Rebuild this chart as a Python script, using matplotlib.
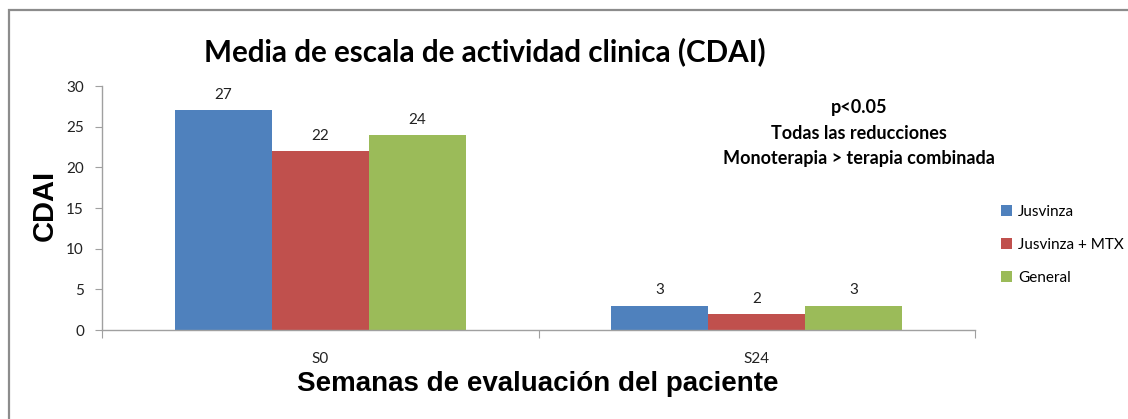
import matplotlib
matplotlib.use("Agg")
import matplotlib.pyplot as plt
from matplotlib.patches import Rectangle
import numpy as np

categories = ["S0", "S24"]
series_names = ["Jusvinza", "Jusvinza + MTX", "General"]
jusvinza = [27, 3]
jusvinza_mtx = [22, 2]
general = [24, 3]
colors = ["#4F81BD", "#C0504D", "#9BBB59"]
title = "Media de escala de actividad clinica (CDAI)"
annotation = ["p<0.05", "Todas las reducciones", "Monoterapia > terapia combinada"]

W, H = 1128, 419
fig = plt.figure(figsize=(W / 100, H / 100), dpi=100)

# outer frame
fig.add_artist(Rectangle((8.5 / W, -0.1), 1.2, (H - 10.5) / H + 0.1,
                         transform=fig.transFigure, fill=False,
                         edgecolor="#8C8C8C", linewidth=1.6))

ax = fig.add_axes([102 / W, (H - 330) / H, (975 - 102) / W, (330 - 86) / H])

x = np.arange(len(categories))
bw = 0.222
for i, (vals, c, name) in enumerate(zip([jusvinza, jusvinza_mtx, general], colors, series_names)):
    bars = ax.bar(x + (i - 1) * bw, vals, width=bw, color=c, label=name,
                  edgecolor="none")
    for b, v in zip(bars, vals):
        ax.text(b.get_x() + b.get_width() / 2, v + 1.0, str(v), ha="center", va="bottom",
                fontsize=11, family="Lato", color="#222222")

ax.set_xlim(-0.5, 1.5)
ax.set_ylim(0, 30)
ax.set_yticks(range(0, 31, 5))
ax.set_xticks([-0.5, 0.5, 1.5], minor=False)
ax.set_xticklabels([])
ax.set_xticks(x, minor=True)
ax.set_xticklabels(categories, minor=True, fontsize=11, family="Lato", color="#222222")
ax.tick_params(axis="x", which="minor", length=0, pad=16)
ax.tick_params(axis="x", which="major", length=6, color="#A0A0A0", direction="out")
ax.tick_params(axis="y", length=5, color="#A0A0A0", direction="out", labelsize=11, pad=8,
               labelcolor="#222222")
for lab in ax.get_yticklabels():
    lab.set_family("Lato")
for s in ["top", "right"]:
    ax.spines[s].set_visible(False)
for s in ["left", "bottom"]:
    ax.spines[s].set_color("#A0A0A0")
    ax.spines[s].set_linewidth(1.0)

fig.text(485 / W, 1 - 52 / H, title, ha="center", va="center", fontsize=21.3,
         fontweight="bold", family="Lato")
fig.text(45 / W, 1 - 205 / H, "CDAI", ha="center", va="center", rotation=90,
         fontsize=21, fontweight="bold", family="Liberation Sans")
fig.text(538 / W, 1 - 384 / H, "Semanas de evaluación del paciente", ha="center", va="center",
         fontsize=20, fontweight="bold", family="Liberation Sans")

for k, line in enumerate(annotation):
    fig.text(859 / W, 1 - (108 + 25 * k) / H, line, ha="center", va="center",
             fontsize=13, fontweight="bold", family="Lato")

leg = fig.legend(loc="center left", bbox_to_anchor=(995 / W, 1 - 245 / H),
                 frameon=False, prop={"family": "Lato", "size": 11},
                 handlelength=0.7, handleheight=0.7, handletextpad=0.4,
                 labelspacing=1.25, borderaxespad=0)

fig.savefig("out.png", dpi=100)
